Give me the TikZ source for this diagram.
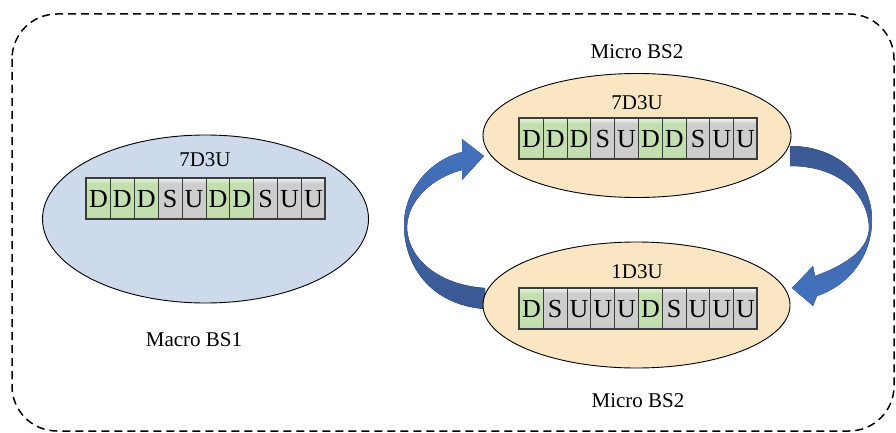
\documentclass[tikz,border=0pt]{standalone}
\usepackage{fontspec}
\setmainfont{Liberation Serif}
\usetikzlibrary{shapes.geometric}
\definecolor{macroblue}{HTML}{CCDAEB}
\definecolor{microtan}{HTML}{FAE6C3}
\definecolor{topD}{HTML}{E6F3DD}
\definecolor{midD}{HTML}{C3DFB0}
\definecolor{botD}{HTML}{8FB07C}
\definecolor{topS}{HTML}{F4F4F4}
\definecolor{midS}{HTML}{CDCDCD}
\definecolor{botS}{HTML}{9A9A9A}
\definecolor{celledge}{HTML}{3C3C3C}
\definecolor{arrowlight}{HTML}{4373C0}
\definecolor{arrowdark}{HTML}{3A5891}
\pgfdeclareverticalshading{cellshD}{100bp}{color(0bp)=(botD); color(25bp)=(botD); color(28bp)=(midD); color(69bp)=(midD); color(75bp)=(topD); color(100bp)=(topD)}
\pgfdeclareverticalshading{cellshS}{100bp}{color(0bp)=(botS); color(25bp)=(botS); color(28bp)=(midS); color(69bp)=(midS); color(75bp)=(topS); color(100bp)=(topS)}
\pgfdeclareverticalshading{cellshU}{100bp}{color(0bp)=(botS); color(25bp)=(botS); color(28bp)=(midS); color(69bp)=(midS); color(75bp)=(topS); color(100bp)=(topS)}
\begin{document}
\begin{tikzpicture}[x=1pt,y=-1pt,
  bs/.style={ellipse, draw=black, line width=0.9pt, inner sep=0pt},
  lbl/.style={font=\fontsize{21}{21}\selectfont, inner sep=0pt},
  cell/.style={draw=celledge, line width=0.9pt, minimum width=23.9pt, minimum height=41pt,
    inner sep=0pt, anchor=north west, shading=cellsh#1,
    font=\fontsize{26}{26}\selectfont},
  cellrow/.style={draw=celledge, line width=1.4pt}
]
\useasboundingbox (0,0) rectangle (896,433);

% dashed frame
\draw[line width=1.5pt, dash pattern=on 8pt off 5pt, rounded corners=45pt]
  (12,14) rectangle (894,431);

% curved arrows
\fill[top color=arrowlight, bottom color=arrowdark]
  (485,309) .. controls (430,305) and (404,265) .. (404,225)
  .. controls (404,190) and (430,160) .. (462,152)
  -- (462,139) -- (484,156) -- (462,180) -- (462,170)
  .. controls (432,178) and (408,200) .. (407,227)
  .. controls (408,260) and (440,285) .. (485,288) -- cycle;
\fill[top color=arrowdark, bottom color=arrowlight]
  (790,146) .. controls (840,146) and (872,180) .. (872,220)
  .. controls (872,255) and (850,285) .. (817,296)
  -- (813,306) -- (792,288) -- (813,266) -- (815,276)
  .. controls (845,265) and (869,250) .. (869,227)
  .. controls (867,190) and (835,166) .. (790,166) -- cycle;

% base stations
\node[bs, fill=macroblue, minimum width=326pt, minimum height=168pt] (macro) at (205.5,219) {};
\node[bs, fill=microtan, minimum width=308pt, minimum height=124pt] (microA) at (637,135.5) {};
\node[bs, fill=microtan, minimum width=307pt, minimum height=126pt] (microB) at (636.5,305) {};

% labels
\node[lbl] (tmacro) at (205,159.5) {7D3U};
\node[lbl] (tmicroA) at (637,102.5) {7D3U};
\node[lbl] (tmicroB) at (637,272) {1D3U};
\node[lbl] (nmacro) at (194,340) {Macro BS1};
\node[lbl] (nmicroA) at (637,52) {Micro BS2};
\node[lbl] (nmicroB) at (638,401) {Micro BS2};

% frame rows
\foreach \c [count=\i from 0] in {D,D,D,S,U,D,D,S,U,U}
  \node[cell=\c] (ma\i) at (86+\i*23.9,178) {\c};
\draw[cellrow] (86,178) rectangle (325,219);

\foreach \c [count=\i from 0] in {D,D,D,S,U,D,D,S,U,U}
  \node[cell=\c] (mb\i) at (519+\i*23.8,118) {\c};
\draw[cellrow] (519,118) rectangle (757,159);

\foreach \c [count=\i from 0] in {D,S,U,U,U,D,S,U,U,U}
  \node[cell=\c] (mc\i) at (519+\i*23.8,288) {\c};
\draw[cellrow] (519,288) rectangle (757,329);
\end{tikzpicture}
\end{document}
